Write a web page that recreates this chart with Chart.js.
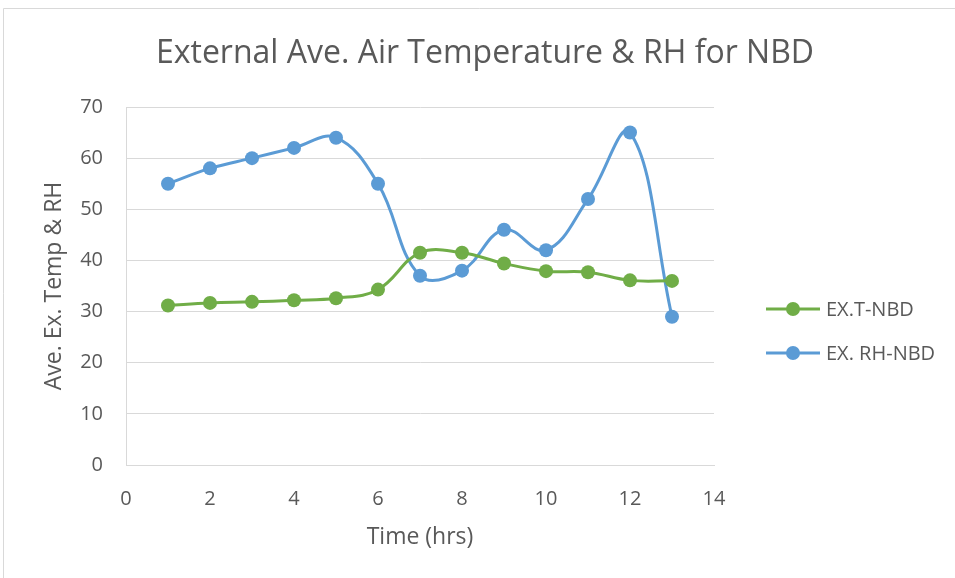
<!DOCTYPE html>
<html>
<head>
<meta charset="utf-8">
<script src="https://cdn.jsdelivr.net/npm/chart.js@4.4.1/dist/chart.umd.min.js"></script>
<style>
  html, body { margin: 0; padding: 0; background: #ffffff; }
  #wrap { width: 955px; height: 578px; position: relative; }
</style>
</head>
<body>
<div id="wrap"><canvas id="c" width="955" height="578"></canvas></div>
<script>
// Hourly readings (time in hours)
const hours = [1, 2, 3, 4, 5, 6, 7, 8, 9, 10, 11, 12, 13];
// External average air temperature
const tempNBD = [31.2, 31.7, 31.9, 32.2, 32.6, 34.3, 41.5, 41.5, 39.4, 37.9, 37.7, 36.1, 36.0];
// External relative humidity
const rhNBD = [55, 58, 60, 62, 64, 55, 37, 38, 46, 42, 52, 65, 29];
const seriesNames = ['EX.T-NBD', 'EX. RH-NBD'];
const seriesColors = ['#70ad47', '#5b9bd5'];

const FONT = '"Open Sans", "DejaVu Sans", sans-serif';
const TEXT = '#595959';

function toPoints(xs, ys) {
  return xs.map((x, i) => ({ x: x, y: ys[i] }));
}

// Frame, title and a line-with-marker legend drawn on the canvas
const decorations = {
  id: 'decorations',
  beforeDraw(chart) {
    const ctx = chart.ctx;
    ctx.save();
    ctx.fillStyle = '#ffffff';
    ctx.fillRect(0, 0, chart.width, chart.height);
    ctx.strokeStyle = '#d9d9d9';
    ctx.lineWidth = 1;
    ctx.beginPath();
    ctx.moveTo(3.5, chart.height);
    ctx.lineTo(3.5, 8.5);
    ctx.lineTo(chart.width, 8.5);
    ctx.stroke();
    ctx.restore();
  },
  afterDraw(chart) {
    const ctx = chart.ctx;
    ctx.save();
    ctx.fillStyle = TEXT;
    ctx.font = '32px ' + FONT;
    ctx.textAlign = 'center';
    ctx.textBaseline = 'alphabetic';
    ctx.fillText('External Ave. Air Temperature & RH for NBD', 485, 63);

    const rows = [309, 353];
    chart.data.datasets.forEach((ds, i) => {
      const y = rows[i];
      ctx.strokeStyle = ds.borderColor;
      ctx.lineWidth = 3;
      ctx.beginPath();
      ctx.moveTo(766, y);
      ctx.lineTo(820, y);
      ctx.stroke();
      ctx.fillStyle = ds.borderColor;
      ctx.beginPath();
      ctx.arc(793, y, 7, 0, Math.PI * 2);
      ctx.fill();
      ctx.fillStyle = TEXT;
      ctx.font = '20px ' + FONT;
      ctx.textAlign = 'left';
      ctx.textBaseline = 'middle';
      ctx.fillText(ds.label, 826, y + 1);
    });
    ctx.restore();
  }
};

new Chart(document.getElementById('c'), {
  type: 'scatter',
  data: {
    datasets: [
      {
        label: seriesNames[0],
        data: toPoints(hours, tempNBD),
        borderColor: seriesColors[0],
        backgroundColor: seriesColors[0],
        showLine: true,
        tension: 0.4,
        borderWidth: 3,
        pointRadius: 7,
        pointHoverRadius: 7,
        pointBorderWidth: 0
      },
      {
        label: seriesNames[1],
        data: toPoints(hours, rhNBD),
        borderColor: seriesColors[1],
        backgroundColor: seriesColors[1],
        showLine: true,
        tension: 0.4,
        borderWidth: 3,
        pointRadius: 7,
        pointHoverRadius: 7,
        pointBorderWidth: 0
      }
    ]
  },
  options: {
    responsive: false,
    animation: false,
    events: [],
    layout: { padding: { left: 0, right: 241, top: 107, bottom: 0 } },
    plugins: {
      legend: { display: false },
      title: { display: false },
      tooltip: { enabled: false }
    },
    scales: {
      x: {
        type: 'linear',
        min: 0,
        max: 14,
        ticks: { stepSize: 2, color: TEXT, font: { family: FONT, size: 20 }, padding: 22 },
        grid: { display: false, drawTicks: false },
        border: { display: true, color: '#d9d9d9', width: 1 },
        title: { display: true, text: 'Time (hrs)', color: TEXT, font: { family: FONT, size: 23 }, padding: { top: 0, bottom: 27 } },
        afterFit(scale) { scale.height = 113; }
      },
      y: {
        min: 0,
        max: 70,
        ticks: { stepSize: 10, color: TEXT, font: { family: FONT, size: 20 }, padding: 23 },
        grid: { color: '#d9d9d9', lineWidth: 1, drawTicks: false },
        border: { display: true, color: '#d9d9d9', width: 1 },
        title: { display: true, text: 'Ave. Ex. Temp & RH', color: TEXT, font: { family: FONT, size: 23 }, padding: { top: 41, bottom: 0 } },
        afterFit(scale) { scale.width = 126; }
      }
    }
  },
  plugins: [decorations]
});
</script>
</body>
</html>
